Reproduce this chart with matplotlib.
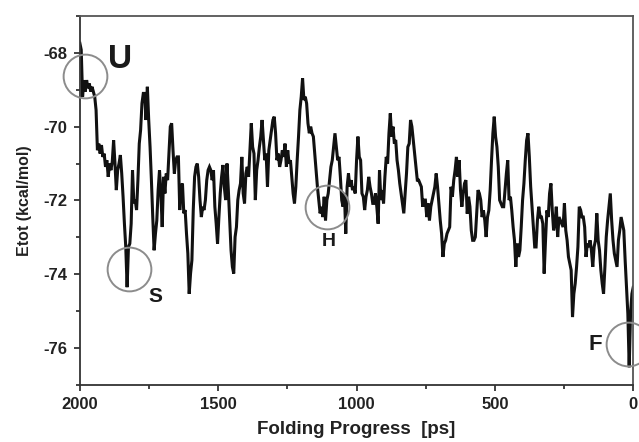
import matplotlib
matplotlib.use("Agg")
import matplotlib.pyplot as plt
import numpy as np

plt.rcParams["font.family"] = ["Liberation Sans", "DejaVu Sans"]
plt.rcParams["axes.unicode_minus"] = False

etot = [
    -67.74, -67.92, -69.19, -68.74, -69.05, -68.74, -68.96, -68.83, -69.05, -68.92,
    -69.05, -69.19, -69.55, -70.64, -70.46, -70.73, -70.50, -70.82, -70.73, -71.09,
    -70.91, -71.36, -71.00, -71.18, -70.95, -70.37, -71.00, -71.72, -71.18, -71.00,
    -70.77, -71.27, -71.90, -72.63, -73.26, -74.35, -73.26, -73.17, -72.63, -71.18,
    -72.08, -71.99, -72.26, -71.45, -70.46, -70.09, -69.37, -69.10,
    # 1800 - 1550
    -69.10, -69.82, -68.92, -69.82, -70.55, -71.45, -72.45, -73.35, -72.90, -72.54,
    -71.72, -71.18, -71.81, -72.72, -71.36, -71.81, -71.27, -71.45, -70.73, -70.00,
    -69.91, -70.64, -71.27, -70.91, -70.82, -70.82, -72.26, -71.63, -71.54, -72.35,
    -72.26, -72.90, -73.44, -74.53, -73.98, -73.62, -72.26, -71.36, -71.09, -71.00,
    -71.36, -71.99, -72.45, -72.17, -72.26, -71.99, -71.45, -71.18, -71.09, -71.18,
    -71.45, -71.18,
    # 1550 - 1300
    -72.17, -72.63, -73.17, -72.45, -71.81, -71.36, -71.04, -71.63, -71.99, -71.00,
    -71.72, -72.54, -73.35, -73.80, -73.98, -72.99, -72.72, -71.99, -71.72, -71.54,
    -70.82, -71.81, -72.08, -71.27, -71.09, -71.36, -70.64, -69.91, -70.55, -70.73,
    -71.99, -71.18, -70.91, -70.55, -70.27, -69.82, -70.36, -70.91, -70.73, -71.63,
    -70.64, -70.36, -70.09, -69.82, -69.73, -70.18, -70.91, -70.73, -71.09, -70.91,
    -70.64, -70.82,
    # 1300 - 1050
    -70.46, -71.09, -70.64, -71.00, -70.91, -71.36, -71.81, -72.08, -71.63, -70.91,
    -70.27, -69.55, -69.19, -68.69, -69.28, -69.19, -69.37, -69.91, -70.18, -70.00,
    -70.18, -70.27, -70.73, -71.18, -71.63, -71.99, -72.35, -72.17, -72.45, -71.90,
    -72.54, -71.99, -71.81, -71.45, -71.09, -70.91, -70.55, -70.18, -70.55, -70.91,
    -70.82, -71.36, -71.99, -72.17, -71.81, -72.90, -71.63, -71.27, -71.63, -71.45,
    -71.72, -71.63, -71.81,
    # 1050 - 800
    -70.91, -70.27, -70.82, -70.91, -71.81, -71.90, -72.26, -71.90, -71.72, -71.36,
    -71.63, -71.81, -72.08, -72.08, -71.81, -72.17, -72.63, -71.18, -71.99, -71.72,
    -72.08, -71.36, -70.82, -71.00, -70.18, -69.64, -70.27, -70.00, -70.46, -70.36,
    -70.91, -71.18, -71.54, -71.81, -72.08, -72.35, -71.81, -71.27, -70.55, -70.46,
    -69.82, -70.00, -70.36, -70.73, -71.09, -71.45, -71.45, -71.54, -71.63, -72.17,
    -71.99, -71.99,
    # 800 - 550
    -72.45, -72.08, -72.54, -72.17, -71.99, -71.81, -71.63, -71.27, -71.63, -72.08,
    -72.54, -72.90, -73.53, -73.17, -73.08, -72.90, -72.81, -72.72, -71.63, -71.90,
    -71.45, -71.18, -70.82, -71.36, -70.91, -71.72, -72.17, -71.81, -71.54, -71.45,
    -72.36, -71.90, -72.17, -72.81, -73.08, -73.08, -72.99, -72.36, -71.72, -71.81,
    -71.99, -72.45, -72.27, -72.54, -72.99, -72.45, -72.27, -71.72, -70.91, -70.18,
    -69.73, -70.27, -70.55,
    # 550 - 250
    -71.09, -71.99, -72.08, -72.17, -72.17, -71.72, -71.27, -70.91, -71.99, -71.90,
    -72.27, -72.72, -73.08, -73.80, -73.17, -73.53, -73.35, -72.72, -71.99, -71.54,
    -70.91, -70.37, -70.18, -70.82, -71.63, -72.17, -72.72, -73.26, -73.26, -72.54,
    -72.17, -72.45, -72.45, -72.63, -73.98, -73.08, -72.27, -72.45, -71.81, -71.54,
    -72.27, -72.81, -72.63, -72.17, -72.99, -72.45, -72.54, -72.63, -72.72, -72.08,
    -72.81, -73.08, -73.53,
    # 250 - 0
    -73.71, -73.89, -75.16, -74.53, -74.25, -73.80, -73.26, -72.17, -72.26, -72.45,
    -72.45, -72.72, -73.53, -73.17, -73.26, -73.08, -73.35, -73.80, -73.26, -73.08,
    -72.35, -73.08, -73.35, -73.89, -74.25, -74.53, -73.80, -72.99, -72.54, -72.17,
    -71.81, -72.54, -73.08, -73.44, -73.62, -73.80, -73.08, -72.81, -72.45, -72.63,
    -72.81, -73.62, -74.35, -75.07, -76.52, -75.07, -74.53, -74.35,
]
# sampled at a constant step over the run
time_ps = np.linspace(2000, 0, len(etot))

state_labels = ["U", "S", "H", "F"]
state_time = [1982, 1823, 1107, 18]
state_etot = [-68.63, -73.85, -72.18, -75.90]

fig = plt.figure(figsize=(6.39, 4.42), dpi=100)
ax = fig.add_axes([0.125, 0.129, 0.866, 0.835])

ax.plot(time_ps, etot, color="#111111", linewidth=2.2, solid_joinstyle="miter")

ax.plot(state_time, state_etot, "o", markersize=31.5, markerfacecolor="none",
        markeredgecolor="#8c8c8c", markeredgewidth=1.4, clip_on=False, zorder=3)

label_style = {"fontweight": "bold", "color": "#1a1a1a"}
# (dx pt, dy pt, font size) for each state label
offsets = {"U": (25, 12, 24), "S": (19, -20, 15), "H": (1.5, -24.5, 14), "F": (-24, 0, 16)}
for name, t, e in zip(state_labels, state_time, state_etot):
    dx, dy, size = offsets[name]
    ax.annotate(name, (t, e), xytext=(dx, dy), textcoords="offset points",
                ha="center", va="center", fontsize=size, **label_style)

ax.set_xlim(2000, 0)
ax.set_ylim(-77, -67)
ax.set_xticks([2000, 1500, 1000, 500, 0])
ax.set_xticks([1750, 1250, 750, 250], minor=True)
ax.set_yticks([-76, -74, -72, -70, -68])
ax.set_yticks([-77, -75, -73, -71, -69, -67], minor=True)
ax.tick_params(which="both", direction="out", width=1.2, color="#222222")
ax.tick_params(which="major", length=4, labelsize=12, labelcolor="#222222")
ax.tick_params(axis="x", which="major", pad=5)
ax.tick_params(axis="y", which="major", pad=5)
ax.tick_params(which="minor", length=3)
for lab in ax.get_xticklabels() + ax.get_yticklabels():
    lab.set_fontweight("bold")
for side, spine in ax.spines.items():
    spine.set_linewidth(1.3)
    spine.set_color("#333333" if side in ("left", "bottom") else "#555555")

ax.set_xlabel("Folding Progress  [ps]", fontsize=13.5, fontweight="bold", color="#222222", labelpad=6)
ax.set_ylabel("Etot (kcal/mol)", fontsize=11.5, fontweight="bold", color="#222222", labelpad=8)

fig.savefig("out.png", dpi=100)
